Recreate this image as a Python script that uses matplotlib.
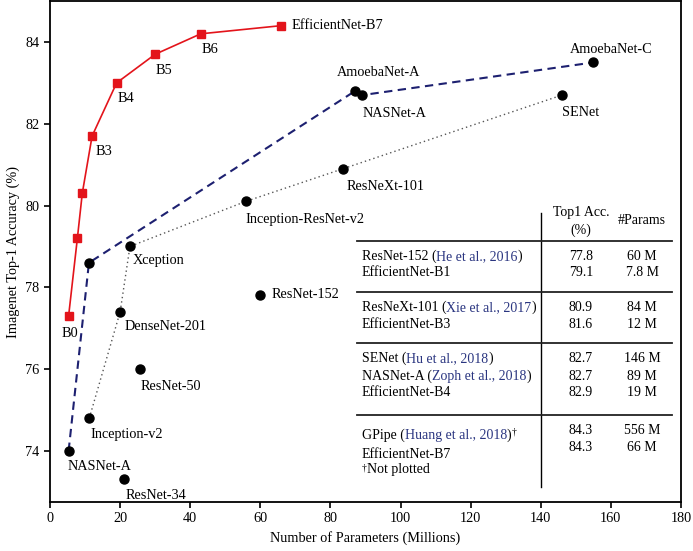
import matplotlib
matplotlib.use("Agg")
import matplotlib.pyplot as plt

plt.rcParams['font.family'] = ['Liberation Serif', 'DejaVu Serif']

# EfficientNet family
eff_names = ['B0', '', '', 'B3', 'B4', 'B5', 'B6', 'EfficientNet-B7']
eff_params = [5.3, 7.8, 9.2, 12, 19, 30, 43, 66]
eff_acc = [77.3, 79.2, 80.3, 81.7, 83.0, 83.7, 84.2, 84.4]

# NAS models (dashed line)
nas_names = ['NASNet-A', '', 'AmoebaNet-A', 'NASNet-A', 'AmoebaNet-C']
nas_params = [5.3, 11.1, 87.0, 89.0, 155.0]
nas_acc = [74.0, 78.6, 82.8, 82.7, 83.5]

# hand-crafted models (dotted line)
hand_names = ['Inception-v2', 'DenseNet-201', 'Xception', 'Inception-ResNet-v2', 'ResNeXt-101', 'SENet']
hand_params = [11.2, 20.0, 22.8, 55.8, 83.6, 146.0]
hand_acc = [74.8, 77.4, 79.0, 80.1, 80.9, 82.7]

# standalone models
other_names = ['ResNet-34', 'ResNet-50', 'ResNet-152']
other_params = [21.0, 25.6, 60.0]
other_acc = [73.3, 76.0, 77.8]

# label offsets in pixels (dx, dy)
offsets = {
    'B0': (-7, -18), 'B3': (3, -15), 'B4': (1, -16), 'B5': (0, -16), 'B6': (1, -16),
    'EfficientNet-B7': (10, 0),
    'NASNet-A_s': (-1, -16), 'AmoebaNet-A': (-18, 19), 'NASNet-A_b': (1, -18),
    'AmoebaNet-C': (-24, 13),
    'Inception-v2': (1, -16), 'DenseNet-201': (4, -15), 'Xception': (3, -14),
    'Inception-ResNet-v2': (0, -18), 'ResNeXt-101': (3, -18), 'SENet': (0, -17),
    'ResNet-34': (2, -16), 'ResNet-50': (1, -17), 'ResNet-152': (11, 1),
}

# table
tab_groups = [
    [('ResNet-152', 'He et al., 2016', '77.8', '60 M'),
     ('EfficientNet-B1', None, '79.1', '7.8 M')],
    [('ResNeXt-101', 'Xie et al., 2017', '80.9', '84 M'),
     ('EfficientNet-B3', None, '81.6', '12 M')],
    [('SENet', 'Hu et al., 2018', '82.7', '146 M'),
     ('NASNet-A', 'Zoph et al., 2018', '82.7', '89 M'),
     ('EfficientNet-B4', None, '82.9', '19 M')],
    [('GPipe', 'Huang et al., 2018', '84.3', '556 M'),
     ('EfficientNet-B7', None, '84.3', '66 M')],
]

red = '#e3141b'
navy = '#1d2070'
cite = '#2a3580'
fs = 10.3
tfs = 10

fig = plt.figure(figsize=(6.93, 5.51), dpi=100)
ax = fig.add_axes([0.0722, 0.089, 0.9105, 0.909])

ax.plot(hand_params, hand_acc, ls=(0, (1, 2.2)), color='#555555', lw=1.0, zorder=2)
ax.plot(nas_params, nas_acc, ls=(0, (4, 2.6)), color=navy, lw=1.5, zorder=2)
ax.plot(hand_params, hand_acc, 'o', color='black', ms=6.5, zorder=3)
ax.plot(nas_params, nas_acc, 'o', color='black', ms=6.5, zorder=3)
ax.plot(other_params, other_acc, 'o', color='black', ms=6.5, zorder=3)
ax.plot(eff_params, eff_acc, '-s', color=red, lw=1.2, ms=6, zorder=4)


def label(name, x, y, key=None):
    if not name:
        return
    dx, dy = offsets[key or name]
    ax.annotate(name, (x, y), xytext=(dx, dy), textcoords='offset pixels',
                ha='left', va='center', fontsize=fs)


for n, x, y in zip(eff_names, eff_params, eff_acc):
    label(n, x, y)
for i, (n, x, y) in enumerate(zip(nas_names, nas_params, nas_acc)):
    key = None
    if n == 'NASNet-A':
        key = 'NASNet-A_s' if i == 0 else 'NASNet-A_b'
    label(n, x, y, key)
for n, x, y in zip(hand_names, hand_params, hand_acc):
    label(n, x, y)
for n, x, y in zip(other_names, other_params, other_acc):
    label(n, x, y)

# ---- table
x_name, x_acc, x_par = 88.9, 151.4, 168.9
ax.plot([140.2, 140.2], [79.82, 73.12], color='black', lw=1.0)
for yl in [79.13, 77.88, 76.63, 74.87]:
    ax.plot([87.7, 177.5], [yl, yl], color='#222222', lw=1.3)
ax.text(x_acc, 79.82, 'Top1 Acc.', ha='center', va='center', fontsize=tfs)
ax.text(x_acc, 79.40, '(%)', ha='center', va='center', fontsize=tfs)
ax.text(x_par, 79.64, '#Params', ha='center', va='center', fontsize=tfs)

row_y = [[78.76, 78.35], [77.51, 77.09], [76.27, 75.83, 75.42], [74.37, 73.92]]
num_y = [[78.76, 78.35], [77.51, 77.09], [76.27, 75.83, 75.42], [74.51, 74.08]]
fig.canvas.draw()
for g, group in enumerate(tab_groups):
    for r, (name, ref, acc, par) in enumerate(group):
        y = row_y[g][r]
        if ref:
            t = ax.text(x_name, y, name + ' (', ha='left', va='center', fontsize=tfs)
            t = ax.annotate(ref, xy=(1, 0), xycoords=t, va='bottom', ha='left',
                            fontsize=tfs, color=cite)
            t = ax.annotate(')', xy=(1, 0), xycoords=t, va='bottom', ha='left', fontsize=tfs)
            if name == 'GPipe':
                ax.annotate('\u2020', xy=(1, 0.45), xycoords=t, va='bottom', ha='left',
                            fontsize=7)
        else:
            ax.text(x_name, y, name, ha='left', va='center', fontsize=tfs)
        ax.text(x_acc, num_y[g][r], acc, ha='center', va='center', fontsize=tfs)
        ax.text(x_par, num_y[g][r], par, ha='center', va='center', fontsize=tfs)
t = ax.text(x_name, 73.58, '\u2020', ha='left', va='center', fontsize=7)
ax.annotate('Not plotted', xy=(1, 0.0), xycoords=t, xytext=(0, -3.5),
            textcoords='offset pixels', va='bottom', ha='left', fontsize=tfs)

ax.set_xlim(0, 180)
ax.set_ylim(72.75, 85)
ax.set_xticks(range(0, 181, 20))
ax.set_yticks([74, 76, 78, 80, 82, 84])
ax.tick_params(direction='out', labelsize=fs, width=1.2, length=4)
for s in ax.spines.values():
    s.set_linewidth(1.3)
ax.set_xlabel('Number of Parameters (Millions)', fontsize=fs)
ax.set_ylabel('Imagenet Top-1 Accuracy (%)', fontsize=fs)

fig.savefig('out.png', dpi=100)
